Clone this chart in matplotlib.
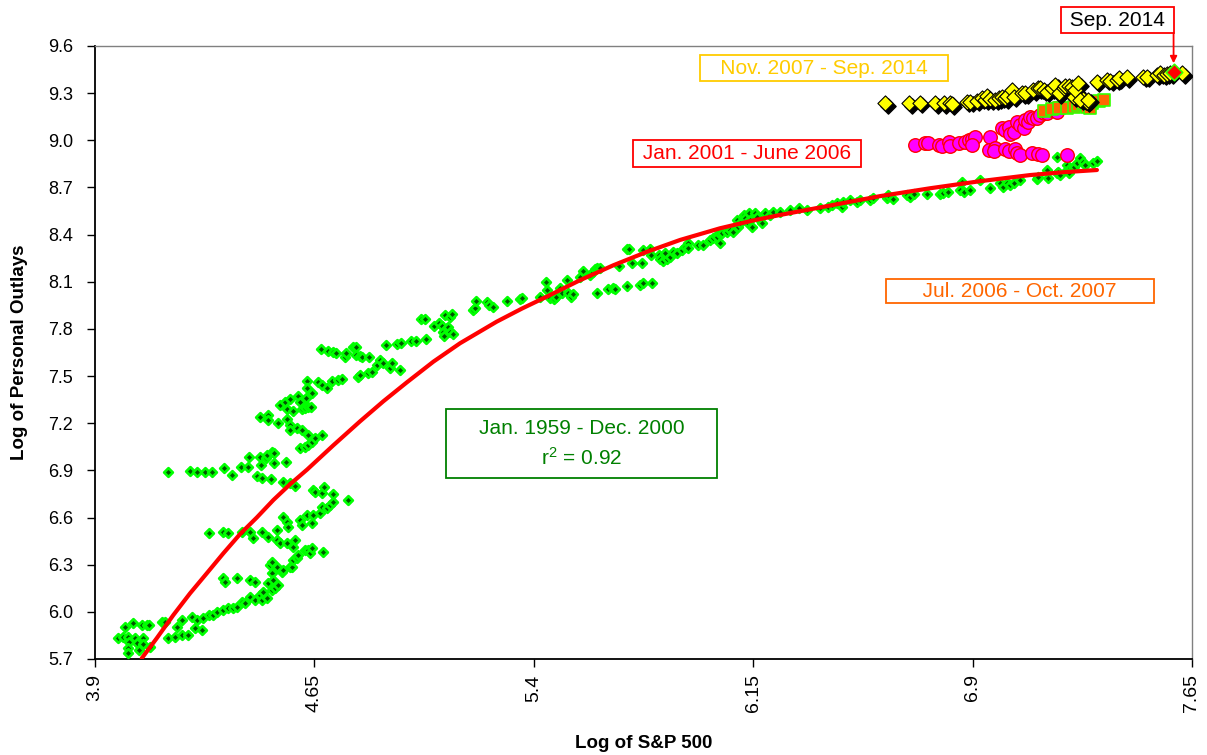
import matplotlib
matplotlib.use('Agg')
import matplotlib.pyplot as plt
from matplotlib.transforms import offset_copy

plt.rcParams['font.family'] = ['Liberation Sans', 'DejaVu Sans']
plt.rcParams['mathtext.fontset'] = 'custom'
plt.rcParams['mathtext.rm'] = 'Liberation Sans'
plt.rcParams['mathtext.it'] = 'Liberation Sans:italic'

# ---------------- data ----------------
# Jan. 1959 - Dec. 2000 (green)
green_x = [
    3.980, 4.003, 3.997, 4.014, 4.017, 4.014, 4.014, 4.031, 4.037, 4.043, 4.052, 4.060, 4.063, 4.065, 4.077,
    4.086, 4.088, 4.128, 4.139, 4.151, 4.174, 4.179, 4.196, 4.196, 4.219, 4.231, 4.242, 4.248, 4.265, 4.270,
    4.288, 4.288, 4.305, 4.316, 4.339, 4.339, 4.339, 4.345, 4.356, 4.356, 4.373, 4.384, 4.384, 4.401, 4.401,
    4.413, 4.430, 4.430, 4.430, 4.441, 4.447, 4.447, 4.464, 4.470, 4.470, 4.476, 4.487, 4.493, 4.493, 4.498,
    4.504, 4.504, 4.504, 4.510, 4.515, 4.521, 4.521, 4.521, 4.527, 4.533, 4.538, 4.544, 4.544, 4.555, 4.555,
    4.561, 4.567, 4.572, 4.578, 4.578, 4.584, 4.589, 4.595, 4.601, 4.607, 4.618, 4.624, 4.629, 4.635, 4.641,
    4.641, 4.646, 4.669, 4.675, 4.681, 4.692, 4.703, 4.715, 4.766,
    4.151, 4.225, 4.248, 4.276, 4.299, 4.342, 4.370, 4.398, 4.422, 4.426, 4.455, 4.464, 4.466, 4.470, 4.483,
    4.487, 4.501, 4.504, 4.512, 4.512, 4.544, 4.553, 4.567, 4.584, 4.601, 4.618, 4.629, 4.641, 4.646, 4.652,
    4.675, 4.684, 4.715,
    4.464, 4.493, 4.493, 4.527, 4.533, 4.550, 4.555, 4.558, 4.567, 4.567, 4.567, 4.576, 4.589, 4.595, 4.601,
    4.607, 4.607, 4.618, 4.621, 4.624, 4.624, 4.629, 4.637, 4.641, 4.629, 4.652, 4.675, 4.664, 4.675, 4.692,
    4.709, 4.732, 4.743, 4.672, 4.698, 4.715, 4.724, 4.755, 4.758, 4.783, 4.792, 4.792, 4.806, 4.814, 4.838,
    4.800, 4.806, 4.834, 4.846, 4.863,
    4.874, 4.885, 4.908, 4.914, 4.942, 4.895, 4.931, 4.945, 4.979, 4.997, 5.031, 5.016, 5.028, 5.059, 5.077,
    5.085, 5.091, 5.093, 5.102, 5.108, 5.113, 5.096, 5.113, 5.119, 5.125, 5.191, 5.199, 5.204, 5.239, 5.248,
    5.259, 5.310, 5.353, 5.358, 5.421, 5.442, 5.446, 5.457, 5.469, 5.476, 5.489, 5.498, 5.512, 5.518, 5.527,
    5.535, 5.558, 5.567, 5.592, 5.603, 5.609, 5.615, 5.626, 5.615, 5.652, 5.672, 5.677, 5.717, 5.763, 5.774,
    5.803, 5.692, 5.717, 5.726, 5.734, 5.769, 5.774, 5.797, 5.799, 5.829, 5.831, 5.843, 5.854, 5.848, 5.865,
    5.877, 5.888, 5.905, 5.917, 5.928, 5.928, 5.962, 5.979, 6.002, 6.014, 6.025, 6.034,
    6.037, 6.042, 6.060, 6.071, 6.082, 6.094, 6.099, 6.105, 6.117, 6.122, 6.128, 6.134, 6.139, 6.145, 6.156,
    6.162, 6.179, 6.191, 6.208, 6.219, 6.242, 6.276, 6.305, 6.333, 6.379, 6.407, 6.419, 6.436, 6.453, 6.458,
    6.481, 6.504, 6.515, 6.550, 6.561, 6.607, 6.612, 6.629, 6.675, 6.686, 6.698, 6.743, 6.789, 6.800, 6.817,
    6.857, 6.863, 6.869, 6.891, 6.926, 6.960, 6.994, 7.005, 7.017, 7.028, 7.040, 7.062, 7.119, 7.125, 7.154,
    7.159, 7.188, 7.193, 7.199, 7.222, 7.222, 7.233, 7.228, 7.245, 7.256, 7.268, 7.279, 7.285, 7.313, 7.325,
    7.188,
]
green_y = [
    5.832, 5.906, 5.838, 5.843, 5.811, 5.768, 5.737, 5.927, 5.832, 5.800, 5.758, 5.915, 5.832, 5.796, 5.915,
    5.915, 5.779, 5.938, 5.938, 5.832, 5.843, 5.906, 5.949, 5.853, 5.853, 5.970, 5.896, 5.949, 5.885, 5.959,
    6.500, 5.980, 5.980, 6.002, 6.511, 6.214, 6.012, 6.193, 6.500, 6.023, 6.023, 6.214, 6.033, 6.511, 6.065,
    6.055, 6.511, 6.203, 6.097, 6.468, 6.193, 6.076, 6.108, 6.511, 6.076, 6.129, 6.087, 6.479, 6.182, 6.299,
    6.320, 6.246, 6.140, 6.203, 6.150, 6.521, 6.458, 6.288, 6.171, 6.436, 6.256, 6.606, 6.267, 6.436, 6.574,
    6.542, 6.288, 6.288, 6.415, 6.330, 6.458, 6.341, 6.362, 6.585, 6.553, 6.394, 6.617, 6.394, 6.373, 6.564,
    6.405, 6.617, 6.627, 6.670, 6.383, 6.659, 6.680, 6.701, 6.712,
    6.888, 6.896, 6.888, 6.888, 6.888, 6.913, 6.871, 6.924, 6.924, 6.988, 6.865, 6.988, 6.935, 6.854, 6.977,
    6.998, 6.843, 7.019, 7.009, 6.949, 6.829, 6.956, 6.818, 6.801, 7.041, 7.051, 7.062, 7.083, 6.775, 6.765,
    6.759, 6.793, 6.748,
    7.238, 7.253, 7.221, 7.204, 7.316, 7.337, 7.225, 7.289, 7.352, 7.189, 7.157, 7.280, 7.168, 7.374, 7.337,
    7.157, 7.289, 7.295, 7.359, 7.471, 7.422, 7.306, 7.306, 7.395, 7.125, 7.104, 7.125, 7.465, 7.444, 7.422,
    7.471, 7.475, 7.480, 7.670, 7.662, 7.651, 7.645, 7.624, 7.645, 7.687, 7.687, 7.634, 7.628, 7.624, 7.620,
    7.496, 7.507, 7.518, 7.528, 7.571,
    7.602, 7.581, 7.549, 7.585, 7.539, 7.698, 7.704, 7.712, 7.723, 7.723, 7.734, 7.863, 7.863, 7.818, 7.840,
    7.818, 7.782, 7.755, 7.804, 7.814, 7.782, 7.888, 7.878, 7.895, 7.768, 7.920, 7.931, 7.978, 7.973, 7.952,
    7.941, 7.978, 7.988, 7.994, 8.001, 8.096, 8.047, 7.994, 7.988, 8.005, 8.058, 8.031, 8.111, 8.026, 8.005,
    8.020, 8.132, 8.168, 8.143, 8.164, 8.179, 8.185, 8.185, 8.031, 8.052, 8.062, 8.052, 8.073, 8.079, 8.094,
    8.094, 8.202, 8.306, 8.306, 8.217, 8.217, 8.302, 8.306, 8.270, 8.270, 8.243, 8.234, 8.243, 8.281, 8.255,
    8.291, 8.281, 8.302, 8.323, 8.344, 8.313, 8.334, 8.334, 8.365, 8.376, 8.387, 8.408,
    8.345, 8.408, 8.419, 8.429, 8.419, 8.493, 8.451, 8.472, 8.525, 8.504, 8.482, 8.536, 8.493, 8.451, 8.536,
    8.514, 8.472, 8.536, 8.525, 8.546, 8.546, 8.557, 8.567, 8.557, 8.567, 8.578, 8.589, 8.599, 8.578, 8.610,
    8.620, 8.610, 8.620, 8.620, 8.631, 8.631, 8.652, 8.625, 8.652, 8.642, 8.659, 8.659, 8.659, 8.663, 8.673,
    8.684, 8.737, 8.673, 8.684, 8.748, 8.699, 8.726, 8.705, 8.726, 8.716, 8.731, 8.748, 8.752, 8.769, 8.811,
    8.758, 8.790, 8.801, 8.779, 8.811, 8.843, 8.822, 8.790, 8.832, 8.854, 8.885, 8.864, 8.843, 8.854, 8.871,
    8.896,
]

# fitted trend line (r^2 = 0.92)
trend_x = [4.060, 4.111, 4.168, 4.225, 4.282, 4.339, 4.396, 4.453, 4.510, 4.567, 4.625, 4.715,
           4.806, 4.886, 4.966, 5.057, 5.148, 5.273, 5.360, 5.444, 5.558, 5.672, 5.786, 5.900,
           6.036, 6.150, 6.242, 6.413, 6.584, 6.755, 6.926, 7.097, 7.210, 7.325]
trend_y = [5.705, 5.832, 5.980, 6.118, 6.245, 6.373, 6.495, 6.600, 6.712, 6.812, 6.905, 7.060,
           7.212, 7.340, 7.460, 7.592, 7.709, 7.846, 7.930, 8.005, 8.110, 8.205, 8.290, 8.366,
           8.440, 8.490, 8.525, 8.585, 8.645, 8.695, 8.740, 8.779, 8.797, 8.811]

# Jan. 2001 - June 2006 (magenta circles)
mag_x = [6.704, 6.738, 6.749, 6.784, 6.795, 6.818, 6.824, 6.852, 6.875, 6.886, 6.898, 6.909, 6.898,
         6.960, 6.955, 6.977, 6.972, 7.012, 7.023, 7.046, 7.051, 7.063, 7.103, 7.125, 7.137, 7.222,
         7.000, 7.012, 7.023, 7.029, 7.040, 7.051, 7.063, 7.074, 7.080, 7.091, 7.097, 7.108, 7.120,
         7.131, 7.143, 7.154, 7.171, 7.182, 7.188]
mag_y = [8.970, 8.985, 8.981, 8.970, 8.964, 8.991, 8.964, 8.981, 8.991, 9.002, 9.006, 9.019, 8.970,
         9.019, 8.938, 8.949, 8.934, 8.943, 8.934, 8.943, 8.922, 8.907, 8.922, 8.913, 8.907, 8.907,
         9.076, 9.066, 9.087, 9.040, 9.055, 9.119, 9.098, 9.076, 9.129, 9.119, 9.150, 9.140, 9.140,
         9.161, 9.172, 9.172, 9.193, 9.204, 9.182]

# Jul. 2006 - Oct. 2007 (orange squares)
orange_x = [7.143, 7.171, 7.194, 7.222, 7.245, 7.262, 7.279, 7.291, 7.308, 7.331, 7.348, 7.302]
orange_y = [9.189, 9.197, 9.204, 9.204, 9.214, 9.225, 9.235, 9.214, 9.235, 9.252, 9.257, 9.204]

# Nov. 2007 - Sep. 2014 (yellow diamonds)
yel_x = [6.601, 6.684, 6.719, 6.772, 6.801, 6.824, 6.829, 6.880, 6.892, 6.915, 6.932, 6.943, 6.949,
         6.960, 6.977, 6.989, 7.000, 7.012, 7.017, 7.034, 7.040, 7.069, 7.080, 7.108, 7.125, 7.131,
         7.143, 7.154, 7.171, 7.182, 7.194, 7.211, 7.217, 7.228, 7.239, 7.245, 7.251, 7.262, 7.279,
         7.291, 7.268, 7.296, 7.325, 7.359, 7.371, 7.393, 7.399, 7.427, 7.484, 7.496, 7.530, 7.541,
         7.553, 7.564, 7.576, 7.616]
yel_y = [9.235, 9.235, 9.240, 9.235, 9.235, 9.240, 9.229, 9.246, 9.246, 9.252, 9.267, 9.257, 9.282,
         9.261, 9.257, 9.267, 9.274, 9.267, 9.282, 9.320, 9.278, 9.299, 9.299, 9.320, 9.331, 9.331,
         9.320, 9.310, 9.331, 9.352, 9.299, 9.331, 9.346, 9.346, 9.341, 9.278, 9.320, 9.363, 9.261,
         9.246, 9.257, 9.257, 9.373, 9.384, 9.380, 9.384, 9.394, 9.401, 9.405, 9.405, 9.416, 9.426,
         9.416, 9.422, 9.426, 9.426]

# Sep. 2014 (latest point)
sep_x = [7.587]
sep_y = [9.437]

x_ticks = [3.9, 4.65, 5.4, 6.15, 6.9, 7.65]
x_tick_labels = ['3.9', '4.65', '5.4', '6.15', '6.9', '7.65']
y_ticks = [5.7, 6.0, 6.3, 6.6, 6.9, 7.2, 7.5, 7.8, 8.1, 8.4, 8.7, 9.0, 9.3, 9.6]
y_tick_labels = ['5.7', '6.0', '6.3', '6.6', '6.9', '7.2', '7.5', '7.8', '8.1', '8.4', '8.7',
                 '9.0', '9.3', '9.6']

# ---------------- figure ----------------
W, H = 1207, 755
fig = plt.figure(figsize=(W / 100, H / 100), dpi=100)
ax = fig.add_axes([95 / W, 1 - 659 / H, 1097 / W, 613 / H])

ax.set_xlim(3.9, 7.65)
ax.set_ylim(5.7, 9.6)

# green points
ax.scatter(green_x, green_y, marker='D', s=20, facecolor='#005500', edgecolor='#00FF00',
           linewidths=1.9, zorder=3)
# trend line
ax.plot(trend_x, trend_y, color='#FF0000', lw=3.0, solid_capstyle='round',
        solid_joinstyle='round', zorder=4)
# magenta circles
ax.scatter(mag_x, mag_y, marker='o', s=95, facecolor='#FF00FF', edgecolor='#FF0000',
           linewidths=1.0, zorder=5)
# orange squares
ax.scatter(orange_x, orange_y, marker='s', s=80, facecolor='#FF6600', edgecolor='#33FF00',
           linewidths=1.2, zorder=6)
# yellow diamonds with black shadow
shadow = offset_copy(ax.transData, fig=fig, x=2.5, y=-2.5, units='dots')
ax.scatter(yel_x, yel_y, marker='D', s=60, facecolor='black', edgecolor='black',
           linewidths=1.0, zorder=7, transform=shadow)
ax.scatter(yel_x, yel_y, marker='D', s=60, facecolor='#FFFF00', edgecolor='black',
           linewidths=0.8, zorder=8)
# Sep 2014 point
ax.scatter(sep_x, sep_y, marker='D', s=70, facecolor='#FF0000', edgecolor='#33FF00',
           linewidths=1.2, zorder=9)

# axes styling
ax.set_xticks(x_ticks)
ax.set_xticklabels(x_tick_labels, rotation=90, fontsize=14)
ax.set_yticks(y_ticks)
ax.set_yticklabels(y_tick_labels, fontsize=13)
ax.tick_params(axis='both', direction='out', length=6, width=1.0, color='black')
ax.tick_params(axis='y', pad=10)
ax.tick_params(axis='x', pad=5)
for side in ('left', 'bottom'):
    ax.spines[side].set_color('black')
    ax.spines[side].set_linewidth(1.3)
for side in ('top', 'right'):
    ax.spines[side].set_color('#808080')
    ax.spines[side].set_linewidth(1.0)

ax.set_xlabel('Log of S&P 500', fontsize=13.5, fontweight='bold', labelpad=16)
ax.set_ylabel('Log of Personal Outlays', fontsize=13.5, fontweight='bold', labelpad=14)

# annotation boxes
def label(x, y, text, color, size=15, pad=0.15, linespacing=1.2):
    ax.text(x, y, text, transform=ax.transAxes, ha='center', va='center', color=color,
            fontsize=size, zorder=10, linespacing=linespacing,
            bbox=dict(boxstyle='square,pad=%g' % pad, facecolor='white', edgecolor=color, lw=1.3))

label(0.6645, 0.964, '   Nov. 2007 - Sep. 2014   ', '#FFCC00', pad=0.15)
label(0.5944, 0.8246, ' Jan. 2001 - June 2006 ', '#FF0000', pad=0.2)
label(0.8432, 0.6003, '      Jul. 2006 - Oct. 2007      ', '#FF6600', pad=0.1)
label(0.4435, 0.3516, '    Jan. 1959 - Dec. 2000    \nr$^{2}$ = 0.92', '#008000', pad=0.45,
      linespacing=1.5)

ax.text(0.932, 1.0424, ' Sep. 2014 ', transform=ax.transAxes, ha='center', va='center',
        color='black', fontsize=15, zorder=10, clip_on=False,
        bbox=dict(boxstyle='square,pad=0.15', facecolor='white', edgecolor='#FF0000', lw=1.3))
ax.annotate('', xy=(sep_x[0], sep_y[0]), xytext=(0, 28), textcoords='offset points',
            annotation_clip=False,
            arrowprops=dict(arrowstyle='-|>', color='#FF0000', lw=1.3, shrinkA=0, shrinkB=6,
                            mutation_scale=10))

fig.savefig('out.png', dpi=100)
